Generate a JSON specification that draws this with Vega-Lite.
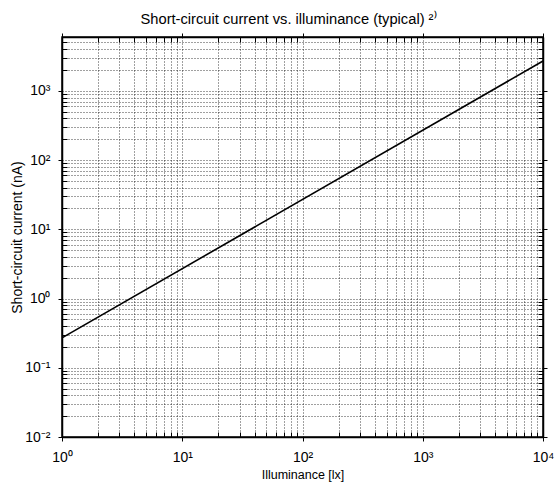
{
  "$schema": "https://vega.github.io/schema/vega-lite/v6.json",
  "width": 481,
  "height": 400,
  "autosize": {"type": "none"},
  "padding": {"left": 62, "top": 37, "right": 17, "bottom": 49},
  "background": "white",
  "title": {
    "text": "Short-circuit current vs. illuminance (typical) ²⁾",
    "font": "Liberation Sans",
    "fontSize": 14.7,
    "fontWeight": "normal",
    "color": "black",
    "offset": 3,
    "dx": -14
  },
  "config": {
    "view": {"stroke": "black", "strokeWidth": 1.5},
    "axis": {
      "labelFont": "Liberation Sans",
      "titleFont": "Liberation Sans",
      "labelColor": "black",
      "titleColor": "black",
      "titleFontWeight": "normal",
      "domainColor": "black",
      "domainWidth": 1.5,
      "tickColor": "black",
      "labelFontSize": 14
    }
  },
  "data": {
    "values": [
      {"lux": 1, "current": 0.27},
      {"lux": 10000, "current": 2700}
    ]
  },
  "layer": [
    {
      "mark": {"type": "line", "color": "black", "strokeWidth": 1.6, "clip": true},
      "encoding": {
        "x": {
          "field": "lux",
          "type": "quantitative",
          "scale": {"type": "log", "domain": [1, 10000], "nice": false},
          "axis": {
            "orient": "bottom",
            "title": "Illuminance [lx]",
            "titleFontSize": 12.5,
            "titlePadding": 4,
            "values": [1,2,3,4,5,6,7,8,9,10,20,30,40,50,60,70,80,90,100,200,300,400,500,600,700,800,900,1000,2000,3000,4000,5000,6000,7000,8000,9000,10000],
            "labelExpr": "datum.value == 1 ? '10⁰' : datum.value == 10 ? '10¹' : datum.value == 100 ? '10²' : datum.value == 1000 ? '10³' : datum.value == 10000 ? '10⁴' : ''",
            "labelPadding": 9,
            "labelFlush": false,
            "labelOverlap": false,
            "tickSize": {"condition": {"test": "indexof([1,10,100,1000,10000], datum.value) >= 0", "value": 4}, "value": -5},
            "tickWidth": 1,
            "grid": true,
            "gridColor": "#000",
            "gridOpacity": 0.75,
            "gridDash": [1, 2],
            "gridWidth": 1
          }
        },
        "y": {
          "field": "current",
          "type": "quantitative",
          "scale": {"type": "log", "domain": [0.01, 6000], "nice": false},
          "axis": {
            "orient": "left",
            "title": "Short-circuit current (nA)",
            "titleFontSize": 14,
            "titlePadding": 0,
            "values": [0.01,0.02,0.03,0.04,0.05,0.06,0.07,0.08,0.09,0.1,0.2,0.3,0.4,0.5,0.6,0.7,0.8,0.9,1,2,3,4,5,6,7,8,9,10,20,30,40,50,60,70,80,90,100,200,300,400,500,600,700,800,900,1000,2000,3000,4000,5000,6000],
            "labelExpr": "datum.value == 0.01 ? '10⁻²' : datum.value == 0.1 ? '10⁻¹' : datum.value == 1 ? '10⁰' : datum.value == 10 ? '10¹' : datum.value == 100 ? '10²' : datum.value == 1000 ? '10³' : ''",
            "labelPadding": 8,
            "labelFlush": false,
            "labelOverlap": false,
            "tickSize": {"condition": {"test": "indexof([0.01,0.1,1,10,100,1000], datum.value) >= 0", "value": 4}, "value": -5},
            "tickWidth": 1,
            "grid": true,
            "gridColor": "#000",
            "gridOpacity": 0.75,
            "gridDash": [1, 2],
            "gridWidth": 1
          }
        }
      }
    },
    {
      "mark": {"type": "line", "opacity": 0},
      "encoding": {
        "x": {
          "field": "lux",
          "type": "quantitative",
          "scale": {"type": "log", "domain": [1, 10000], "nice": false},
          "axis": {
            "orient": "top",
            "title": null,
            "labels": false,
            "grid": false,
            "values": [1,2,3,4,5,6,7,8,9,10,20,30,40,50,60,70,80,90,100,200,300,400,500,600,700,800,900,1000,2000,3000,4000,5000,6000,7000,8000,9000,10000],
            "tickSize": {"condition": {"test": "indexof([1,10,100,1000,10000], datum.value) >= 0", "value": 4}, "value": -5},
            "tickWidth": 1
          }
        },
        "y": {
          "field": "current",
          "type": "quantitative",
          "scale": {"type": "log", "domain": [0.01, 6000], "nice": false},
          "axis": {
            "orient": "right",
            "title": null,
            "labels": false,
            "grid": false,
            "values": [0.01,0.02,0.03,0.04,0.05,0.06,0.07,0.08,0.09,0.1,0.2,0.3,0.4,0.5,0.6,0.7,0.8,0.9,1,2,3,4,5,6,7,8,9,10,20,30,40,50,60,70,80,90,100,200,300,400,500,600,700,800,900,1000,2000,3000,4000,5000,6000],
            "tickSize": {"condition": {"test": "indexof([0.01,0.1,1,10,100,1000], datum.value) >= 0", "value": 4}, "value": -5},
            "tickWidth": 1
          }
        }
      }
    }
  ],
  "resolve": {"axis": {"x": "independent", "y": "independent"}}
}
